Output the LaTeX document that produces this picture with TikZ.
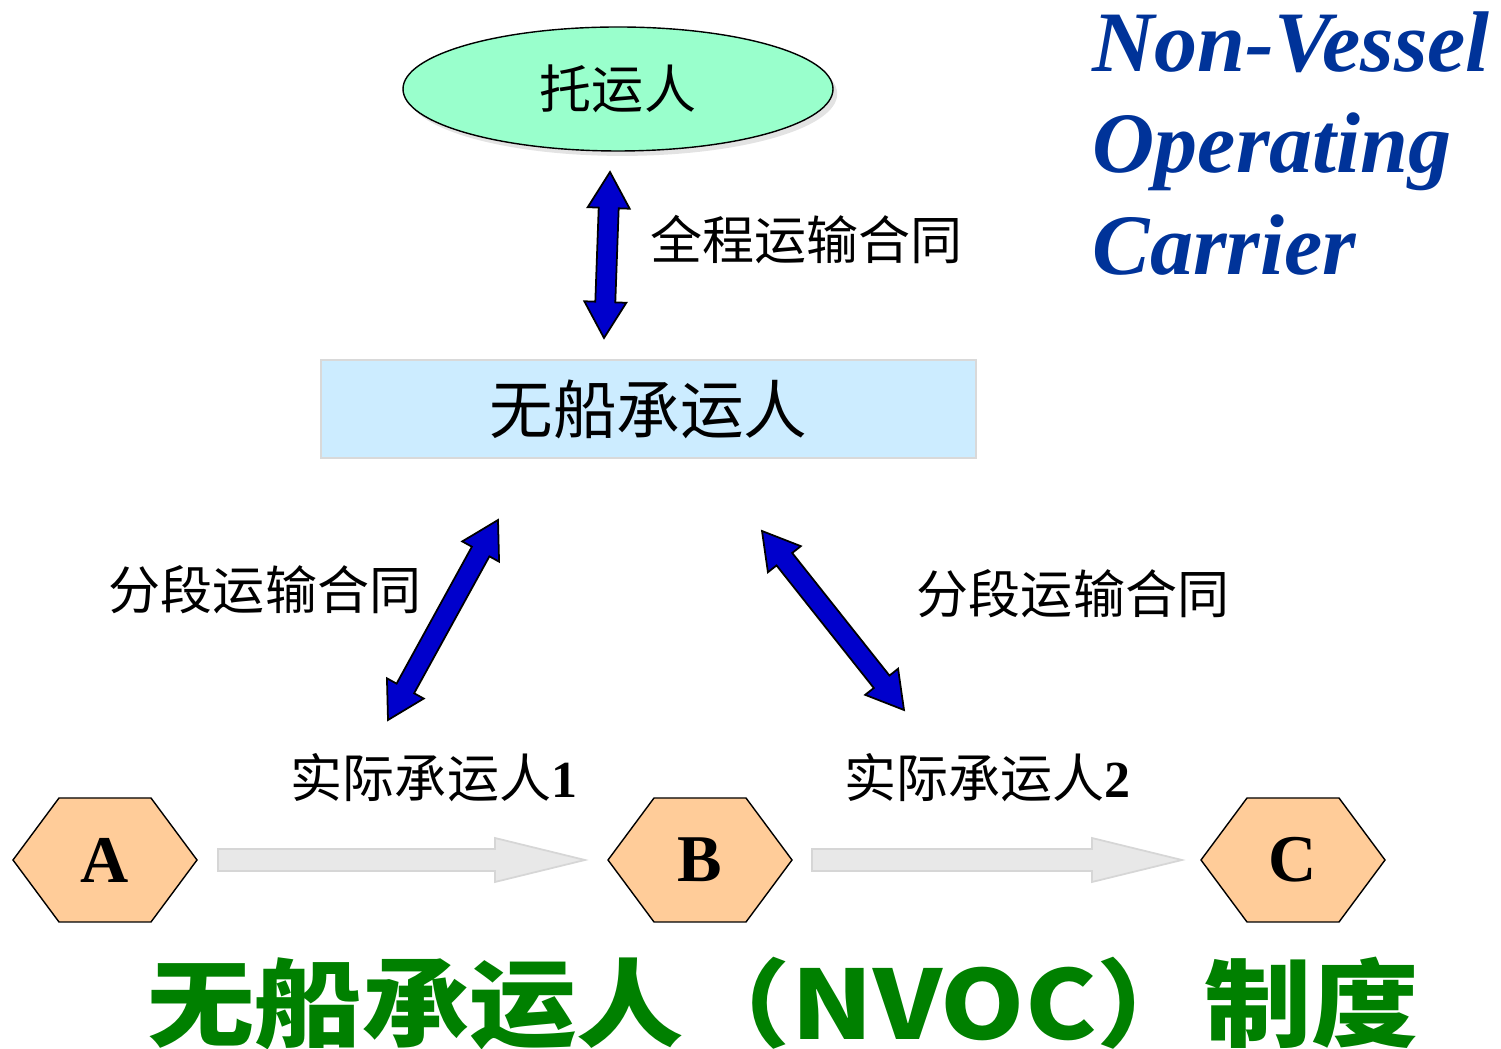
\documentclass[tikz,border=0pt]{standalone}
\usepackage{fontspec}
\usepackage{graphicx}
\setmainfont{Liberation Serif}
\newfontfamily\cjk{Noto Sans CJK SC}
\usetikzlibrary{shapes,arrows,positioning,calc,shadows}
\definecolor{nvocgreen}{RGB}{0,128,0}
\definecolor{nvocblue}{RGB}{0,51,153}
\definecolor{shipperfill}{RGB}{153,255,204}
\definecolor{carrierfill}{RGB}{204,236,255}
\definecolor{portfill}{RGB}{255,204,153}
\definecolor{contractblue}{RGB}{0,0,204}
\definecolor{legfill}{RGB}{232,232,232}
\definecolor{legdraw}{RGB}{214,214,214}

% double block arrow between two points
\newcommand{\dblarrow}[2]{%
  \coordinate (u1) at ($(#1)!0.36cm!(#2)$);
  \coordinate (u2) at ($(#2)!0.36cm!(#1)$);
  \draw[contract] (#1) -- ($(u1)!0.21cm!-90:(#2)$) -- ($(u1)!0.1cm!-90:(#2)$)
    -- ($(u2)!0.1cm!90:(#1)$) -- ($(u2)!0.21cm!90:(#1)$) -- (#2)
    -- ($(u2)!0.21cm!-90:(#1)$) -- ($(u2)!0.1cm!-90:(#1)$)
    -- ($(u1)!0.1cm!90:(#2)$) -- ($(u1)!0.21cm!90:(#2)$) -- cycle;}
% single block arrow between two points
\newcommand{\legarrow}[2]{%
  \coordinate (u1) at ($(#2)!0.9cm!(#1)$);
  \draw[leg] ($(#1)!0.11cm!90:(#2)$) -- ($(u1)!0.11cm!-90:(#1)$) -- ($(u1)!0.22cm!-90:(#1)$)
    -- (#2) -- ($(u1)!0.22cm!90:(#1)$) -- ($(u1)!0.11cm!90:(#1)$)
    -- ($(#1)!0.11cm!-90:(#2)$) -- cycle;}

\begin{document}
\begin{tikzpicture}[
    shipper/.style={ellipse, draw=black, thin, fill=shipperfill, minimum width=4.3cm, minimum height=1.24cm, inner sep=0pt,
      drop shadow={shadow xshift=1.2pt, shadow yshift=-1.4pt, fill=black!22}, font=\fontsize{14.8}{17}\selectfont\cjk},
    carrier/.style={rectangle, draw=black!15, fill=carrierfill, minimum width=6.55cm, minimum height=0.98cm, font=\fontsize{18.1}{21}\selectfont\cjk},
    deal/.style={font=\fontsize{14.8}{17}\selectfont\cjk, inner sep=0pt},
    portlabel/.style={font=\fontsize{19}{22}\selectfont\bfseries, inner sep=0pt},
    port/.style={draw=black, thin, fill=portfill},
    contract/.style={draw=black, line width=0.5pt, fill=contractblue, line join=miter},
    leg/.style={draw=legdraw, line width=0.5pt, fill=legfill},
    heading/.style={font=\fontsize{24.5}{28}\selectfont\bfseries\itshape, text=nvocblue, anchor=base west, inner sep=0pt}
]
\useasboundingbox (0,0) rectangle (15.01,-10.49);

% Shipper and NVOC
\node[shipper] (shipper) at (6.18,-0.89) {托运人};
\node[carrier] (nvoc) at (6.485,-4.09) {无船承运人};

% Contract arrows
\coordinate (c0top) at (6.10,-1.72);
\coordinate (c0bot) at (6.04,-3.38);
\coordinate (c1top) at (4.98,-5.20);
\coordinate (c1bot) at (3.88,-7.20);
\coordinate (c2top) at (7.62,-5.31);
\coordinate (c2bot) at (9.04,-7.10);
\dblarrow{c0top}{c0bot}
\dblarrow{c1top}{c1bot}
\dblarrow{c2top}{c2bot}

\node[deal, anchor=west] (whole) at (6.50,-2.40) {全程运输合同};
\node[deal] (part1) at (2.65,-5.90) {分段运输合同};
\node[deal] (part2) at (10.73,-5.94) {分段运输合同};
\node[deal] (real1) at (4.34,-7.78) {实际承运人{\rmfamily\bfseries 1}};
\node[deal] (real2) at (9.875,-7.78) {实际承运人{\rmfamily\bfseries 2}};

% Ports
\foreach \n/\x in {A/1.05,B/7.00,C/12.93} {
  \draw[port] (\x-0.92,-8.60) -- ++(0.46,0.62) -- ++(0.92,0) -- ++(0.46,-0.62)
    -- ++(-0.46,-0.62) -- ++(-0.92,0) -- cycle;
  \node[portlabel] (\n) at (\x,-8.60) {\n};
}

% Legs
\coordinate (leg1s) at (2.18,-8.60);
\coordinate (leg1e) at (5.85,-8.60);
\coordinate (leg2s) at (8.12,-8.60);
\coordinate (leg2e) at (11.82,-8.60);
\legarrow{leg1s}{leg1e}
\legarrow{leg2s}{leg2e}

% Headings
\node[heading] (h1) at (10.92,-0.72) {Non-Vessel};
\node[heading] (h2) at (10.92,-1.73) {Operating};
\node[heading] (h3) at (10.92,-2.75) {Carrier};

\node[font=\fontsize{28}{32}\selectfont\cjk\bfseries, text=nvocgreen, inner sep=0pt] (title) at (7.83,-10.04)
  {\scalebox{1.09}[0.97]{无船承运人（NVOC）制度}};

\end{tikzpicture}
\end{document}
